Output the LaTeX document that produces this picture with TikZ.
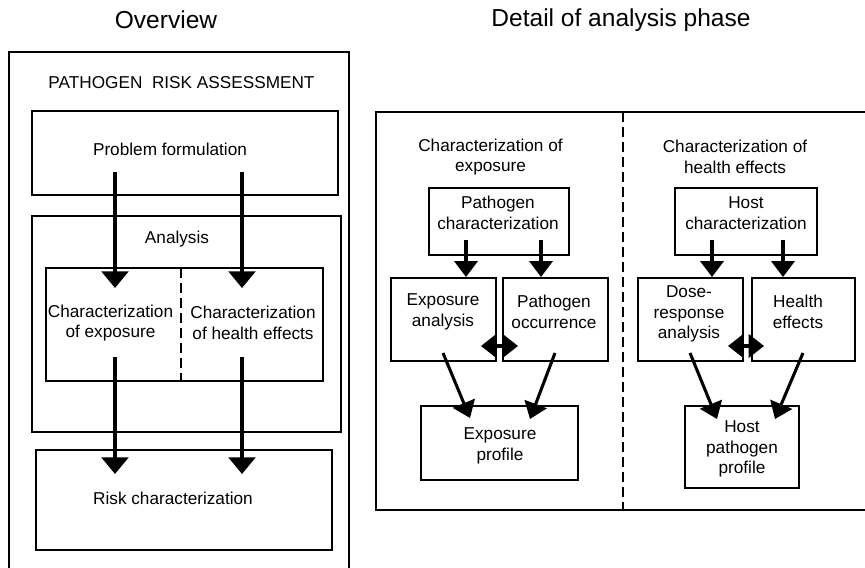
\documentclass[tikz,border=0pt]{standalone}
\usepackage{fontspec}
\setmainfont{Liberation Sans}
\usetikzlibrary{arrows.meta,fit}
\begin{document}
\begin{tikzpicture}[x=0.75pt,y=-0.75pt,
  box/.style={draw,line width=1pt,inner sep=0pt,fit={#1}},
  txt/.style={align=center,inner sep=0pt,font=\fontsize{12.9pt}{15.6pt}\selectfont},
  ttl/.style={inner sep=0pt,font=\fontsize{18.4pt}{22pt}\selectfont},
  bigarrow/.style={line width=2.5pt,-{Triangle[width=20pt,length=12.5pt]}},
  midarrow/.style={line width=2.3pt,-{Triangle[width=17.5pt,length=12pt]}},
  dblarrow/.style={line width=2.3pt,{Triangle[width=17.5pt,length=11.5pt]}-{Triangle[width=17.5pt,length=11.5pt]}},
  divider/.style={line width=1.5pt,dash pattern=on 7.5pt off 3.75pt},
  frame/.style={line width=1pt}]
\useasboundingbox (0,0) rectangle (865,568);

% titles
\node[ttl] (t1) at (166,20) {Overview};
\node[ttl] (t2) at (621,20) {Detail of analysis phase};

% ---------- Overview ----------
\draw[frame] (9,568) -- (9,52) -- (349,52) -- (349,568);
\node[txt] (pra) at (181.5,83) {PATHOGEN\ \ RISK ASSESSMENT};

\node[box={(32,111) (338,195)}] (pf) {};
\node[txt] (pft) at (170,149) {Problem formulation};

\node[box={(32,216) (341,432)}] (an) {};
\node[txt] (ant) at (177,239) {Analysis};

\node[box={(46,268) (323,381)}] (ch) {};
\coordinate (chd1) at (181,268);
\coordinate (chd2) at (181,381);
\draw[divider] (chd1) -- (chd2);
\node[txt] (cet) at (110.5,323) {Characterization\\of exposure};
\node[txt] (cht) at (253,323) {Characterization\\of health effects};

\node[box={(36,450) (332,550)}] (rc) {};
\node[txt] (rct) at (173,498) {Risk characterization};

\coordinate (a1s) at (115,172); \coordinate (a1e) at (115,288);
\coordinate (a2s) at (242,172); \coordinate (a2e) at (242,288);
\coordinate (a3s) at (115,357); \coordinate (a3e) at (115,474);
\coordinate (a4s) at (242,357); \coordinate (a4e) at (242,474);
\draw[bigarrow] (a1s) -- (a1e);
\draw[bigarrow] (a2s) -- (a2e);
\draw[bigarrow] (a3s) -- (a3e);
\draw[bigarrow] (a4s) -- (a4e);

% ---------- Detail ----------
\draw[frame] (866,112) -- (376,112) -- (376,510) -- (866,510);
\coordinate (dv1) at (623,112);
\coordinate (dv2) at (623,510);
\draw[divider] (dv1) -- (dv2);

\node[txt] (cxt) at (490.5,157) {Characterization of\\exposure};
\node[txt] (cht2) at (735,157) {Characterization of\\health effects};

\node[box={(429,188) (569,255)}] (pc) {};
\node[txt] (pct) at (498,213) {Pathogen\\characterization};
\node[box={(675,188) (817,255)}] (hc) {};
\node[txt] (hct) at (746,213) {Host\\characterization};

\node[box={(391,278) (496,361)}] (ea) {};
\node[txt] (eat) at (443,311.5) {Exposure\\analysis};
\node[box={(503,278) (608,361)}] (po) {};
\node[txt] (pot) at (554,311.5) {Pathogen\\occurrence};
\node[box={(638,278) (743,361)}] (dr) {};
\node[txt] (drt) at (689,314) {Dose-\\response\\analysis};
\node[box={(752,278) (855,361)}] (he) {};
\node[txt] (het) at (798,311.5) {Health\\effects};

\node[box={(421,406) (578,480)}] (ep) {};
\node[txt] (ept) at (500,445.5) {Exposure\\profile};
\node[box={(685,406) (799,488)}] (hp) {};
\node[txt] (hpt) at (742,449) {Host\\pathogen\\profile};

% vertical arrows
\coordinate (b1s) at (466,240); \coordinate (b1e) at (466,277);
\coordinate (b2s) at (541,240); \coordinate (b2e) at (541,277);
\coordinate (b3s) at (712,240); \coordinate (b3e) at (712,277);
\coordinate (b4s) at (783,240); \coordinate (b4e) at (783,277);
\draw[midarrow] (b1s) -- (b1e);
\draw[midarrow] (b2s) -- (b2e);
\draw[midarrow] (b3s) -- (b3e);
\draw[midarrow] (b4s) -- (b4e);

% double arrows
\coordinate (d1a) at (481,346); \coordinate (d1b) at (518,346);
\coordinate (d2a) at (728,346); \coordinate (d2b) at (764,346);
\draw[dblarrow] (d1a) -- (d1b);
\draw[dblarrow] (d2a) -- (d2b);

% diagonal arrows
\coordinate (e1s) at (443,353); \coordinate (e1e) at (470,418);
\coordinate (e2s) at (555,353); \coordinate (e2e) at (530,419);
\coordinate (e3s) at (690,353); \coordinate (e3e) at (717,419);
\coordinate (e4s) at (803,353); \coordinate (e4e) at (775,419);
\draw[midarrow] (e1s) -- (e1e);
\draw[midarrow] (e2s) -- (e2e);
\draw[midarrow] (e3s) -- (e3e);
\draw[midarrow] (e4s) -- (e4e);
\end{tikzpicture}
\end{document}
